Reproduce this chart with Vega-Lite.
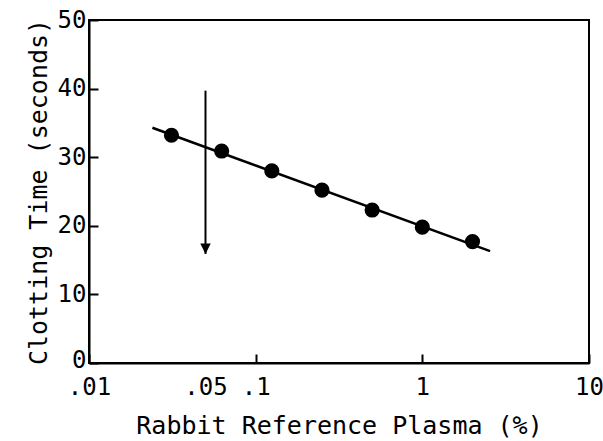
{
  "$schema": "https://vega.github.io/schema/vega-lite/v6.json",
  "autosize": {"type": "none"},
  "width": 500,
  "height": 343,
  "padding": {"left": 89, "top": 20, "right": 14, "bottom": 78},
  "background": "white",
  "config": {
    "view": {"stroke": "black", "strokeWidth": 2},
    "font": "DejaVu Sans Mono",
    "axis": {
      "labelFont": "DejaVu Sans Mono",
      "titleFont": "DejaVu Sans Mono",
      "labelFontSize": 24,
      "titleFontSize": 25,
      "labelColor": "black",
      "titleColor": "black",
      "titleFontWeight": "normal",
      "domainColor": "black",
      "domainWidth": 2,
      "tickColor": "black",
      "tickWidth": 2,
      "grid": false
    }
  },
  "datasets": {
    "points": [
      {"plasma": 0.03125, "time": 33.2},
      {"plasma": 0.0625, "time": 30.9},
      {"plasma": 0.125, "time": 28.0},
      {"plasma": 0.25, "time": 25.2},
      {"plasma": 0.5, "time": 22.3},
      {"plasma": 1, "time": 19.8},
      {"plasma": 2, "time": 17.7}
    ],
    "fit": [
      {"plasma": 0.024, "time": 34.3},
      {"plasma": 2.55, "time": 16.3}
    ],
    "arrow": [
      {"plasma": 0.05, "top": 39.7, "tip": 15.9}
    ]
  },
  "encoding": {
    "x": {
      "field": "plasma",
      "type": "quantitative",
      "scale": {"type": "log", "domain": [0.01, 10], "nice": false},
      "axis": {
        "title": "Rabbit Reference Plasma (%)",
        "values": [0.01, 0.05, 0.1, 1, 10],
        "labelExpr": "datum.value == 0.01 ? '.01' : datum.value == 0.05 ? '.05' : datum.value == 0.1 ? '.1' : datum.value == 1 ? '1' : '10'",
        "tickSize": -9,
        "tickOpacity": {"condition": {"test": "datum.value == 0.05", "value": 0}, "value": 1},
        "labelPadding": 21,
        "labelFlush": false,
        "labelOverlap": false,
        "titlePadding": 14
      }
    },
    "y": {
      "field": "time",
      "type": "quantitative",
      "scale": {"domain": [0, 50], "nice": false},
      "axis": {
        "title": "Clotting Time (seconds)",
        "values": [0, 10, 20, 30, 40, 50],
        "tickSize": -9,
        "labelPadding": 12,
        "labelOffset": {"condition": {"test": "datum.value == 0", "value": -3}, "value": 0},
        "labelFlush": false,
        "labelOverlap": false,
        "titlePadding": 6
      }
    }
  },
  "layer": [
    {
      "data": {"name": "fit"},
      "mark": {"type": "line", "color": "black", "strokeWidth": 2.5}
    },
    {
      "data": {"name": "arrow"},
      "mark": {"type": "rule", "color": "black", "strokeWidth": 2},
      "encoding": {
        "y": {"field": "top", "type": "quantitative"},
        "y2": {"field": "tip"}
      }
    },
    {
      "data": {"name": "arrow"},
      "mark": {"type": "point", "shape": "M-0.5,-1L0.5,-1L0,0Z", "filled": true, "color": "black", "size": 440, "opacity": 1},
      "encoding": {
        "y": {"field": "tip", "type": "quantitative"}
      }
    },
    {
      "data": {"name": "points"},
      "mark": {"type": "circle", "color": "black", "size": 230, "opacity": 1}
    }
  ]
}
